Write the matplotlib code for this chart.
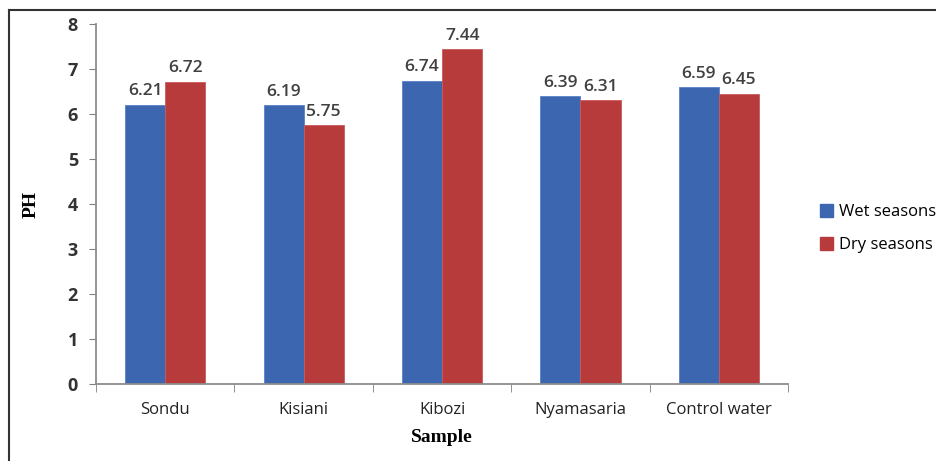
import matplotlib.pyplot as plt
import numpy as np
from matplotlib.lines import Line2D

samples = ['Sondu', 'Kisiani', 'Kibozi', 'Nyamasaria', 'Control water']
wet = [6.21, 6.19, 6.74, 6.39, 6.59]
dry = [6.72, 5.75, 7.44, 6.31, 6.45]
series_names = ['Wet seasons', 'Dry seasons']

blue = '#3d66b0'
red = '#b83b3b'
sans = ['Liberation Sans Narrow', 'Open Sans', 'DejaVu Sans']

fig = plt.figure(figsize=(9.36, 4.61), dpi=100)
ax = fig.add_axes([0.1026, 0.167, 0.7394, 0.781])

x = np.arange(len(samples))
w = 0.29
b1 = ax.bar(x - w / 2, wet, w, color=blue, edgecolor='#5a82c8', linewidth=0.6, label=series_names[0])
b2 = ax.bar(x + w / 2, dry, w, color=red, edgecolor='#c85a5a', linewidth=0.6, label=series_names[1])

# value labels above each bar
for bars, vals in ((b1, wet), (b2, dry)):
    for r, v in zip(bars, vals):
        ax.text(r.get_x() + r.get_width() / 2, v + 0.12, f'{v:.2f}',
                ha='center', va='bottom', fontsize=12.5, color='#404040',
                fontweight='semibold', family=['Open Sans', 'DejaVu Sans'])

ax.set_xlim(-0.5, len(samples) - 0.5)
ax.set_ylim(0, 8)
ax.set_yticks(range(9))
ax.set_xticks(x)
ax.set_xticklabels(samples, family=sans, fontsize=12, color='#222222')
ax.set_xticks(np.arange(len(samples) + 1) - 0.5, minor=True)
ax.tick_params(axis='x', which='major', length=0, pad=13)
ax.tick_params(axis='x', which='minor', length=6, color='#808080', direction='out')
ax.tick_params(axis='y', length=5, color='#808080', direction='out', pad=8)
for t in ax.get_yticklabels():
    t.set_family(['Open Sans', 'DejaVu Sans'])
    t.set_fontweight('bold')
    t.set_fontsize(13)
    t.set_color('#333333')

for s in ('top', 'right'):
    ax.spines[s].set_visible(False)
for s in ('left', 'bottom'):
    ax.spines[s].set_color('#8c8c8c')
    ax.spines[s].set_linewidth(1.3)

ax.set_ylabel('PH', family='Liberation Serif', fontweight='bold', fontsize=14, labelpad=20)
ax.set_xlabel('Sample', family='Liberation Serif', fontweight='bold', fontsize=14, labelpad=8)

handles = [plt.Rectangle((0, 0), 1, 1, color=blue), plt.Rectangle((0, 0), 1, 1, color=red)]
fig.legend(handles, series_names, loc='upper left', bbox_to_anchor=(0.86, 0.59),
           frameon=False, handlelength=0.8, handleheight=0.8,
           handletextpad=0.35, labelspacing=1.0,
           prop={'family': ['Open Sans', 'DejaVu Sans'], 'size': 12})

# outer frame lines
fig.add_artist(Line2D([9 / 936, 9 / 936], [0, 1 - 10 / 461], color='#333333', lw=1.5))
fig.add_artist(Line2D([9 / 936, 1], [1 - 10 / 461, 1 - 10 / 461], color='#333333', lw=1.5))

fig.savefig('out.png', dpi=100)
